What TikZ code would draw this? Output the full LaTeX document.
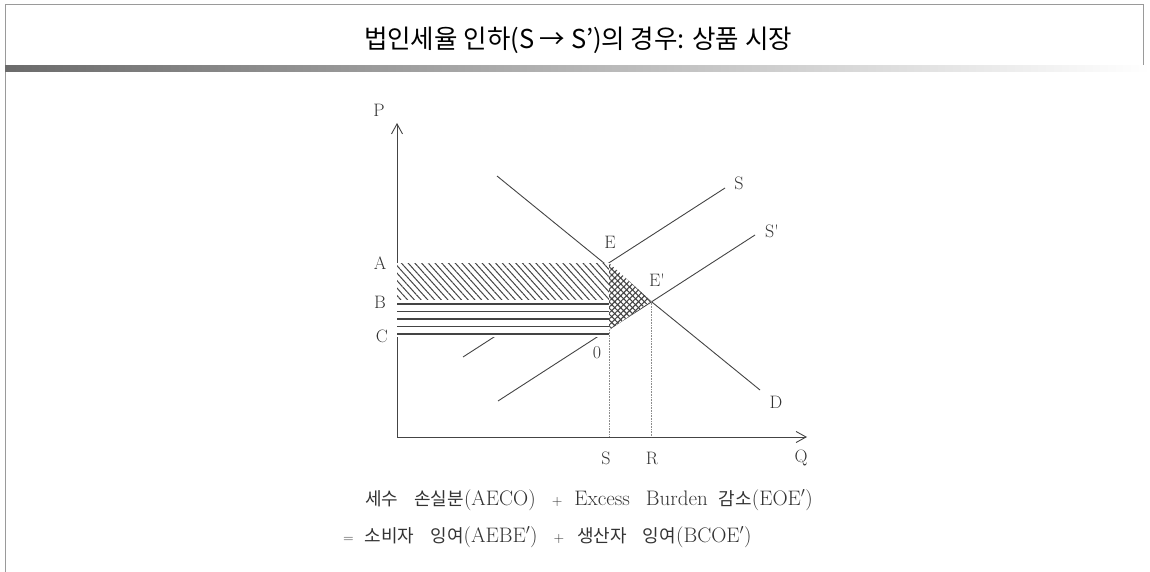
\documentclass[tikz,border=0pt]{standalone}
\usepackage{fontspec}
\usepackage{tikz}
\usepackage{xcolor}
\usetikzlibrary{arrows.meta, patterns.meta}
\newfontfamily\krtitle[FakeStretch=0.98]{Noto Sans CJK KR}
\newfontfamily\kr{Noto Sans CJK KR}
\definecolor{linegray}{HTML}{444444}
\definecolor{framegray}{HTML}{9A9A9A}
\definecolor{textgray}{HTML}{333333}
\newcommand\krw[1]{{\kr\fontsize{18}{20}\selectfont #1}}
\newcommand\gap{\hspace{16pt}}
\newcommand\plussign{{\fontsize{14}{14}\selectfont +}}
\tikzset{
  axis/.style={draw=linegray, line width=0.9pt, -{Straight Barb[length=10pt, width=11pt, line width=0.9pt]}},
  curve/.style={draw=linegray, line width=0.9pt},
  guide/.style={draw=black!45, line width=0.6pt, densely dotted},
  lbl/.style={font=\fontsize{18}{20}\selectfont, text=textgray, inner sep=0pt},
  band/.style={draw=linegray, line width=1.3pt},
  diaghatch/.style={fill=white, postaction={pattern={Lines[angle=-48, distance=5pt, line width=1pt]}, pattern color=linegray}},
  crosshatch/.style={fill=white,
    postaction={pattern={Lines[angle=45, distance=4.2pt, line width=1.1pt]}, pattern color=linegray},
    postaction={pattern={Lines[angle=-45, distance=4.2pt, line width=1.1pt]}, pattern color=linegray}},
  eqline/.style={font=\fontsize{21}{23}\selectfont, text=textgray, inner sep=0pt, anchor=west},
}
\begin{document}
\begin{tikzpicture}[x=1pt, y=-1pt]
  \useasboundingbox (0,0) rectangle (1150,572);
  % frame and heading
  \draw[framegray, line width=1pt] (1143,70) -- (1143,5) -- (5,5) -- (5,572);
  \shade[left color=black!58, right color=white] (5,66) rectangle (1150,72);
  \node (title) at (578,40) {\krtitle\fontsize{26}{30}\selectfont 법인세율 인하(S → S’)의 경우: 상품 시장};

  % points
  \coordinate (orig) at (397,437);
  \coordinate (ytop) at (397,123);
  \coordinate (xend) at (807,437);
  \coordinate (ptA) at (397,263);
  \coordinate (ptB) at (397,300);
  \coordinate (ptC) at (397,337);
  \coordinate (ptE) at (609,263);
  \coordinate (ptEp) at (651,301);
  \coordinate (ptO) at (609,330);
  \coordinate (ptS) at (609,437);
  \coordinate (ptR) at (651,437);
  \coordinate (sLo) at (463,357);
  \coordinate (sHi) at (725,188);
  \coordinate (spLo) at (498,401);
  \coordinate (spHi) at (755,235);
  \coordinate (dLo) at (497,176);
  \coordinate (dHi) at (760,390);

  % axes and curves
  \draw[axis] (orig) -- (ytop);
  \draw[axis] (orig) -- (xend);
  \draw[curve] (sLo) -- (sHi);
  \draw[curve] (spLo) -- (spHi);
  \draw[curve] (dLo) -- (dHi);
  \draw[guide] (ptO) -- (ptS);
  \draw[guide] (ptEp) -- (ptR);

  % shaded areas
  \path[diaghatch] (ptA) rectangle (ptE |- ptB);
  \fill[white] (ptB) rectangle (ptO |- ptC);
  \foreach \y in {304,311.5,319,326.5,334}
    \draw[band] (397,\y) -- (609,\y);
  \path[crosshatch] (ptE) -- (ptEp) -- (ptO) -- cycle;

  % labels
  \node[lbl] (lblP) at (379,110) {P};
  \node[lbl] (lblA) at (380,263) {A};
  \node[lbl] (lblB) at (380,302) {B};
  \node[lbl] (lblC) at (382,336) {C};
  \node[lbl] (lblE) at (610,242) {E};
  \node[lbl] (lblEp) at (657,280) {E\textquotesingle};
  \node[lbl] (lblO) at (597,353) {0};
  \node[lbl] (lblS) at (739,183) {S};
  \node[lbl] (lblSp) at (772,231) {S\textquotesingle};
  \node[lbl] (lblD) at (776,402) {D};
  \node[lbl] (lblSq) at (606,458) {S};
  \node[lbl] (lblR) at (652,458) {R};
  \node[lbl] (lblQ) at (801,458) {Q};

  % identity below the chart
  \node[eqline] (eqTop) at (365,500) {\krw{세수}\gap\krw{손실분}(AECO)\hspace{16pt}\plussign\hspace{12pt}Excess\gap Burden\hspace{11pt}\krw{감소}(EOE$'$)};
  \node[eqline] (eqBot) at (343,537) {{\fontsize{14}{14}\selectfont =}\hspace{11pt}\krw{소비자}\gap\krw{잉여}(AEBE$'$)\gap\plussign\hspace{13pt}\krw{생산자}\gap\krw{잉여}(BCOE$'$)};
\end{tikzpicture}
\end{document}
